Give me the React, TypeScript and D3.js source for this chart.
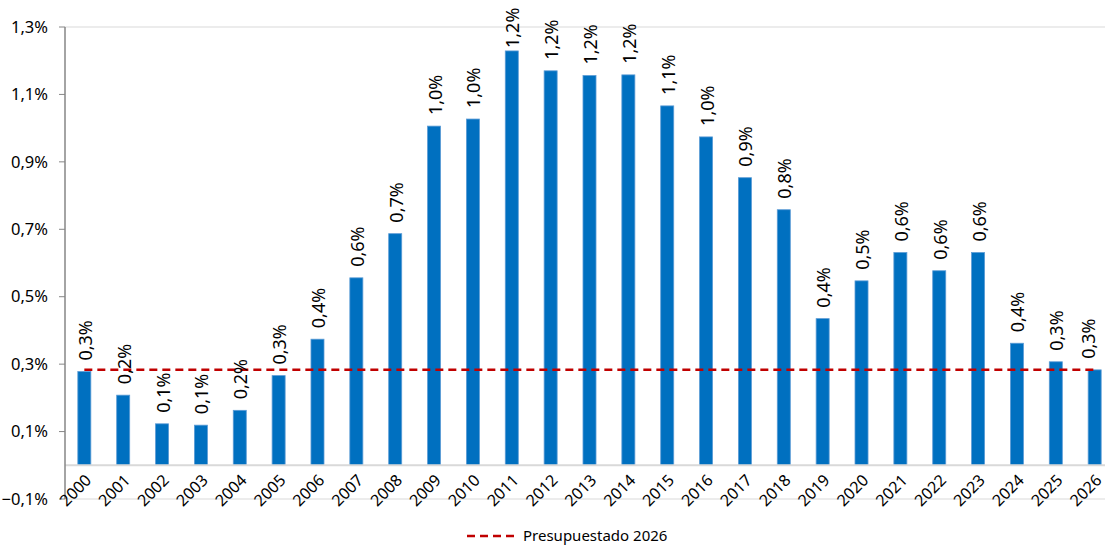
import React from "react";
import * as d3 from "d3";

const years = [
    "2000", "2001", "2002", "2003", "2004", "2005", "2006", "2007", "2008",
    "2009", "2010", "2011", "2012", "2013", "2014", "2015", "2016", "2017",
    "2018", "2019", "2020", "2021", "2022", "2023", "2024", "2025", "2026",
];
// % of GDP
const values = [
    0.278, 0.208, 0.123, 0.119, 0.163, 0.266, 0.374, 0.556, 0.687,
    1.006, 1.027, 1.229, 1.170, 1.156, 1.158, 1.066, 0.974, 0.853,
    0.758, 0.435, 0.547, 0.631, 0.577, 0.631, 0.362, 0.307, 0.283,
];
const budget2026 = 0.283;
const yTicks = [-0.1, 0.1, 0.3, 0.5, 0.7, 0.9, 1.1, 1.3];
const legendLabel = "Presupuestado 2026";

const width = 1105;
const height = 545;
const font = "'Noto Sans', 'Open Sans', sans-serif";

const fmt = (v: number) => d3.format(".1f")(v).replace(".", ",") + "%";

export default function App() {
    const x = d3.scaleBand()
        .domain(years)
        .range([65, 1114])
        .paddingInner(0.665)
        .paddingOuter(0.33);

    const y = d3.scaleLinear()
        .domain([-0.1, 1.3])
        .range([499, 27]);

    const cx = (d: string) => x(d)! + x.bandwidth() / 2;
    const [x0, x1] = x.range();

    return (
        <svg width={width} height={height}
             style={{position: "absolute", left: 0, top: 0, background: "#fff"}}
             fontFamily={font}>
            {/* top and bottom gridlines */}
            <line x1={x0} x2={x1} y1={y(1.3)} y2={y(1.3)} stroke="#d9d9d9" strokeWidth={1}/>
            <line x1={x0} x2={x1} y1={y(-0.1)} y2={y(-0.1)} stroke="#d9d9d9" strokeWidth={1}/>

            {/* bars */}
            {years.map((yr, i) => (
                <rect key={yr}
                      x={x(yr)}
                      y={y(values[i])}
                      width={x.bandwidth()}
                      height={y(0) - y(values[i])}
                      fill="#0070c0"
                      stroke="#5b9bd5"
                      strokeWidth={0.8}/>
            ))}

            {/* category axis at zero */}
            <line x1={x0} x2={x1} y1={y(0)} y2={y(0)} stroke="#d9d9d9" strokeWidth={2}/>

            {/* budget line */}
            <line x1={cx(years[0])} x2={cx(years[years.length - 1])}
                  y1={y(budget2026)} y2={y(budget2026)}
                  stroke="#c00000" strokeWidth={2.5} strokeDasharray="8,5"/>

            {/* value labels (kept inside the chart area like Excel does) */}
            {years.map((yr, i) => (
                <text key={yr}
                      transform={`translate(${Math.min(cx(yr) + 7.5, 1095)},${Math.max(y(values[i]) - 11, 48)}) rotate(-90)`}
                      fontSize={18} fill="#000">
                    {fmt(values[i])}
                </text>
            ))}

            {/* y axis */}
            <line x1={x0} x2={x0} y1={y(1.3)} y2={y(-0.1)} stroke="#868686" strokeWidth={1.5}/>
            {yTicks.map(t => (
                <g key={t}>
                    <line x1={x0 - 6} x2={x0} y1={y(t)} y2={y(t)} stroke="#868686" strokeWidth={1}/>
                    <text x={48} y={y(t)} dy="0.35em" textAnchor="end" fontSize={16.5} fill="#000">
                        {fmt(t)}
                    </text>
                </g>
            ))}

            {/* x labels */}
            {years.map(yr => (
                <text key={yr}
                      transform={`translate(${cx(yr) + 8},${y(0) + 16}) rotate(-45)`}
                      textAnchor="end" fontSize={16} fill="#000">
                    {yr}
                </text>
            ))}

            {/* legend */}
            <line x1={467} x2={517} y1={536} y2={536}
                  stroke="#c00000" strokeWidth={2.5} strokeDasharray="8,5"/>
            <text x={523} y={536} dy="0.35em" fontSize={15} fill="#000">{legendLabel}</text>
        </svg>
    );
}
